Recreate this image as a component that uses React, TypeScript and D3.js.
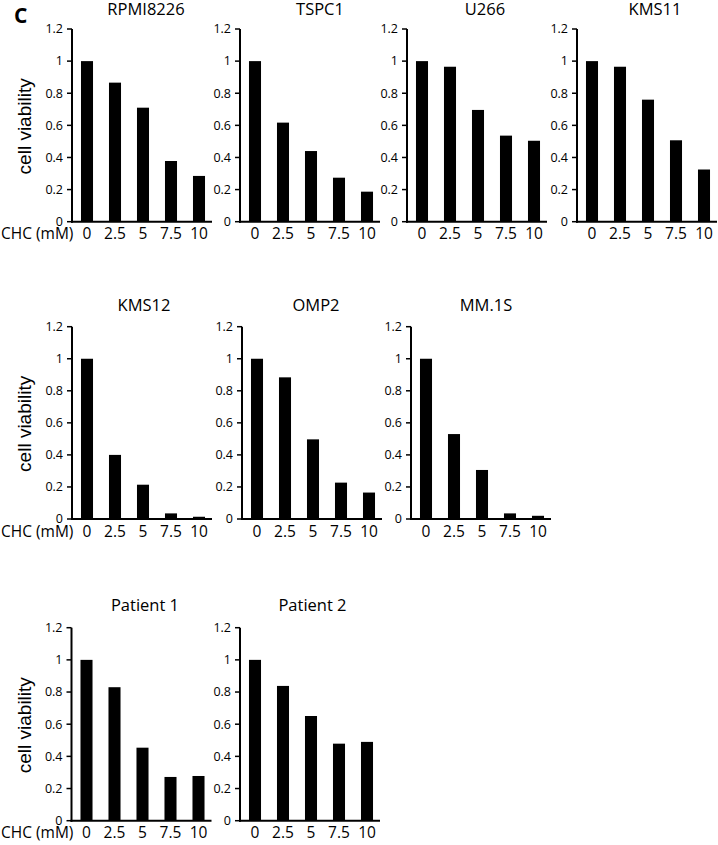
import React from "react";
import * as d3 from "d3";

const doses = ["0", "2.5", "5", "7.5", "10"];
const yTickValues = [0, 0.2, 0.4, 0.6, 0.8, 1, 1.2];

const panelNames = ["RPMI8226", "TSPC1", "U266", "KMS11", "KMS12", "OMP2", "MM.1S", "Patient 1", "Patient 2"];
const rpmi8226 = [1.0, 0.866, 0.71, 0.378, 0.285];
const tspc1 = [1.0, 0.617, 0.44, 0.274, 0.187];
const u266 = [1.0, 0.965, 0.696, 0.536, 0.504];
const kms11 = [1.0, 0.965, 0.76, 0.507, 0.325];
const kms12 = [1.0, 0.40, 0.214, 0.035, 0.014];
const omp2 = [1.0, 0.884, 0.497, 0.227, 0.165];
const mm1s = [1.0, 0.53, 0.306, 0.035, 0.02];
const patient1 = [1.0, 0.83, 0.454, 0.272, 0.278];
const patient2 = [1.0, 0.838, 0.651, 0.479, 0.49];
const panelValues = [rpmi8226, tspc1, u266, kms11, kms12, omp2, mm1s, patient1, patient2];

// layout (not data)
const rows = [
  { top: 29, zero: 221.7, titleY: 15, axes: [72, 240, 407, 577], titleDx: [74, 80, 78, 78] },
  { top: 326.7, zero: 519, titleY: 310.5, axes: [72, 242, 411], titleDx: [72, 74, 75] },
  { top: 627.7, zero: 820.7, titleY: 610.5, axes: [71.5, 240], titleDx: [73.5, 72.5] },
];
const plotW = 140;
const tickFont = "'Open Sans', 'Noto Sans', sans-serif";

function Panel({ ax, row, name, values, titleDx, first }: any) {
  const x = d3.scaleBand<string>().domain(doses).range([ax + 1, ax + 1 + plotW]).paddingInner(0.57).paddingOuter(0.285);
  const y = d3.scaleLinear().domain([0, 1.2]).range([row.zero, row.top]);
  return (
    <g>
      <text x={ax + titleDx} y={row.titleY} textAnchor="middle" fontFamily={tickFont} fontSize={16.5} fill="#000">{name}</text>
      {values.map((v: number, i: number) => (
        <rect key={i} x={x(doses[i])!} y={y(v)} width={x.bandwidth()} height={y(0) - y(v)} fill="#000" />
      ))}
      <line x1={ax} x2={ax} y1={y(1.2)} y2={y(0) + 1} stroke="#000" strokeWidth={2} />
      <line x1={ax - 1} x2={ax + plotW} y1={y(0)} y2={y(0)} stroke="#000" strokeWidth={2} />
      {yTickValues.map((t) => (
        <g key={t}>
          <line x1={ax - 5} x2={ax} y1={y(t)} y2={y(t)} stroke="#000" strokeWidth={1.5} />
          <text x={ax - 9} y={y(t)} dy="0.35em" textAnchor="end" fontFamily={tickFont} fontSize={12.5} fill="#000">{d3.format("~g")(t)}</text>
        </g>
      ))}
      {doses.map((d) => (
        <text key={d} x={x(d)! + x.bandwidth() / 2} y={row.zero + 17.5} textAnchor="middle" fontFamily={tickFont} fontSize={15.5} fill="#000">{d}</text>
      ))}
      {first && (
        <>
          <text x={1} y={row.zero + 17.5} fontFamily={tickFont} fontSize={15.5} fill="#000">CHC (mM)</text>
          <text transform={`translate(31,${(row.top + row.zero) / 2 + 1}) rotate(-90)`} textAnchor="middle" fontFamily="'Liberation Sans', Arial, sans-serif" fontSize={19} fill="#000">cell viability</text>
        </>
      )}
    </g>
  );
}

export default function App() {
  let k = 0;
  const panels: any[] = [];
  rows.forEach((row) => {
    row.axes.forEach((ax, pi) => {
      panels.push(
        <Panel key={k} ax={ax} row={row} name={panelNames[k]} values={panelValues[k]} titleDx={row.titleDx[pi]} first={pi === 0} />
      );
      k++;
    });
  });
  return (
    <svg width={718} height={845} style={{ position: "absolute", left: 0, top: 0, background: "#fff" }}>
      <rect width={718} height={845} fill="#fff" />
      <text x={14} y={23} fontFamily={tickFont} fontWeight="bold" fontSize={21} fill="#000">C</text>
      {panels}
    </svg>
  );
}
